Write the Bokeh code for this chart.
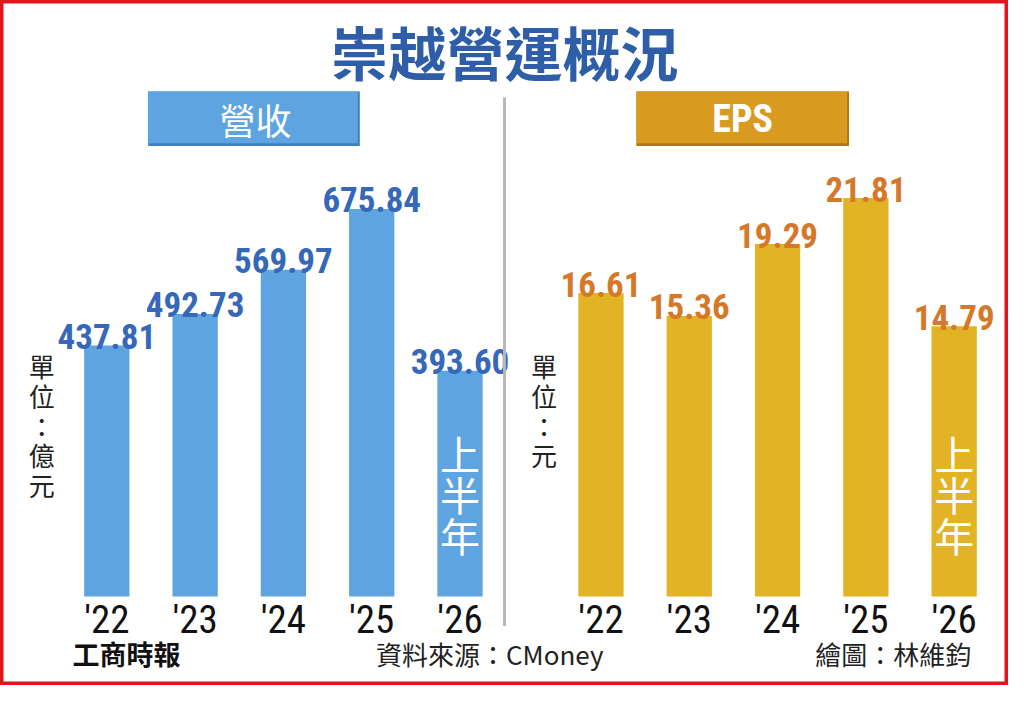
import numpy as np
from bokeh.plotting import figure
from bokeh.models import Range1d, Label, BoxAnnotation, ColumnDataSource
from bokeh.core.properties import value
from bokeh.embed import file_html
from bokeh.resources import INLINE

# ---------------- data ----------------
years = ["'22", "'23", "'24", "'25", "'26"]
revenue = [437.81, 492.73, 569.97, 675.84, 393.60]
revenue_labels = ["437.81", "492.73", "569.97", "675.84", "393.60"]
eps = [16.61, 15.36, 19.29, 21.81, 14.79]
eps_labels = ["16.61", "15.36", "19.29", "21.81", "14.79"]
title_text = "崇越營運概況"
left_header = "營收"
right_header = "EPS"
half_year_note = "上\n半\n年"
rev_unit = "單\n位\n：\n億\n元"
eps_unit = "單\n位\n：\n元"
source_text = "資料來源：CMoney"
credit_text = "繪圖：林維鈞"
logo_text = "工商時報"

# ---------------- layout constants (reference pixels) ----------------
W, H = 1008, 685
REF_W, REF_H = 1024, 701
SX, SY = W / REF_W, H / REF_H
BASE_Y = 610          # baseline of bars
REV_PPU = 0.587       # px per 億元
EPS_PPU = 18.7        # px per 元
X_FIRST = 108         # centre of first revenue bar
SLOT = 89.7           # distance between bars
EPS_FIRST = 610       # centre of first EPS bar
BAR_W = 46

ppux = SLOT * SX
x_start = -(X_FIRST * SX) / ppux
x_end = x_start + W / ppux
ppuy = REV_PPU * SY
y_start = -(H - BASE_Y * SY) / ppuy
y_end = y_start + H / ppuy
ppe = EPS_PPU * SY
e_start = -(H - BASE_Y * SY) / ppe
e_end = e_start + H / ppe


def dx(rx):
    return x_start + rx * SX / ppux


def dy(ry):
    return y_end - ry * SY / ppuy


rev_x = np.arange(len(years)).astype(float)
eps_x = rev_x + (EPS_FIRST - X_FIRST) / SLOT

CJK = "Noto Sans CJK TC"
NARROW = "Roboto Condensed, Roboto"
BLUE_BAR = "#5da4e0"
BLUE_TXT = "#3568b8"
GOLD_BAR = "#e2b324"
GOLD_TXT = "#d5782a"
TITLE_BLUE = "#2f5ea9"

p = figure(width=W, height=H, output_backend="svg", toolbar_location=None,
           x_range=Range1d(x_start, x_end), y_range=Range1d(y_start, y_end),
           min_border=0, background_fill_color="white", border_fill_color="white")
p.extra_y_ranges = {"eps": Range1d(e_start, e_end)}
p.xaxis.visible = False
p.yaxis.visible = False
p.grid.visible = False
p.outline_line_color = "#e3141b"
p.outline_line_width = 6

# ---------------- decorations ----------------
p.add_layout(Label(x=dx(512), y=dy(52), text=title_text, text_align="center",
                   text_baseline="middle", text_font=CJK, text_font_style="bold",
                   text_font_size="58px", text_color=TITLE_BLUE))

# header buttons
for l, r, fill, edge in [(150, 365, BLUE_BAR, "#3f80c0"), (646, 862, "#d99a20", "#b07a12")]:
    p.add_layout(BoxAnnotation(left=dx(l), right=dx(r), top=dy(93), bottom=dy(149),
                               fill_color=edge, fill_alpha=1, line_color=None))
    p.add_layout(BoxAnnotation(left=dx(l), right=dx(r - 2), top=dy(93), bottom=dy(146),
                               fill_color=fill, fill_alpha=1, line_color=None))
p.add_layout(Label(x=dx(259), y=dy(121), text=left_header, text_align="center",
                   text_baseline="middle", text_font=CJK, text_font_size="36px",
                   text_color="white"))
p.add_layout(Label(x=dx(754), y=dy(121), text=right_header, text_align="center",
                   text_baseline="middle", text_font=NARROW, text_font_style="bold",
                   text_font_size="38px", text_color="white"))

# divider
p.add_layout(BoxAnnotation(left=dx(510.5), right=dx(513.5), top=dy(99), bottom=dy(640),
                           fill_color="#b8b8b8", fill_alpha=1, line_color=None))

# ---------------- bars ----------------
rev_src = ColumnDataSource(dict(x=rev_x, top=revenue, label=revenue_labels,
                                year=years, zero=[0] * len(years)))
eps_src = ColumnDataSource(dict(x=eps_x, top=eps, label=eps_labels,
                                year=years, zero=[0] * len(years)))

p.vbar(x="x", top="top", bottom=0, width=BAR_W / SLOT, source=rev_src,
       fill_color=BLUE_BAR, line_color=None)
p.vbar(x="x", top="top", bottom=0, width=BAR_W / SLOT, source=eps_src,
       fill_color=GOLD_BAR, line_color=None, y_range_name="eps")

p.text(x="x", y="top", text="label", source=rev_src, y_offset=-9,
       text_align="center", text_baseline="alphabetic", text_font=value(NARROW),
       text_font_style="bold", text_font_size="35px", text_color=BLUE_TXT)
p.text(x="x", y="top", text="label", source=eps_src, y_offset=-9, y_range_name="eps",
       text_align="center", text_baseline="alphabetic", text_font=value(NARROW),
       text_font_style="bold", text_font_size="35px", text_color=GOLD_TXT)

# category labels under bars
p.text(x="x", y="zero", text="year", source=rev_src, y_offset=0,
       text_align="center", text_baseline="top", text_font=value(NARROW),
       text_font_size="39px", text_color="#111111")
p.text(x="x", y="zero", text="year", source=eps_src, y_offset=0, y_range_name="eps",
       text_align="center", text_baseline="top", text_font=value(NARROW),
       text_font_size="39px", text_color="#111111")

# half-year note inside last bars
p.text(x=[rev_x[-1], eps_x[-1]], y=[dy(505), dy(505)], text=[half_year_note] * 2,
       text_align="center", text_baseline="middle", text_font=value(CJK),
       text_font_size="40px", text_line_height=0.70, text_color="white")

# unit labels
p.text(x=[dx(42), dx(552)], y=[dy(355), dy(355)], text=[rev_unit, eps_unit],
       text_align="center", text_baseline="top", text_font=value(CJK),
       text_font_size="26px", text_line_height=0.80, text_color="#222222")

# ---------------- footer ----------------
p.add_layout(Label(x=dx(128), y=dy(668), text=logo_text, text_align="center",
                   text_baseline="middle", text_font=CJK, text_font_style="bold",
                   text_font_size="27px", text_color="#111111"))
p.add_layout(Label(x=dx(497), y=dy(668), text=source_text, text_align="center",
                   text_baseline="middle", text_font=CJK,
                   text_font_size="26px", text_color="#222222"))
p.add_layout(Label(x=dx(907), y=dy(668), text=credit_text, text_align="center",
                   text_baseline="middle", text_font=CJK,
                   text_font_size="26px", text_color="#222222"))

open("out.html", "w").write(file_html(p, INLINE))
